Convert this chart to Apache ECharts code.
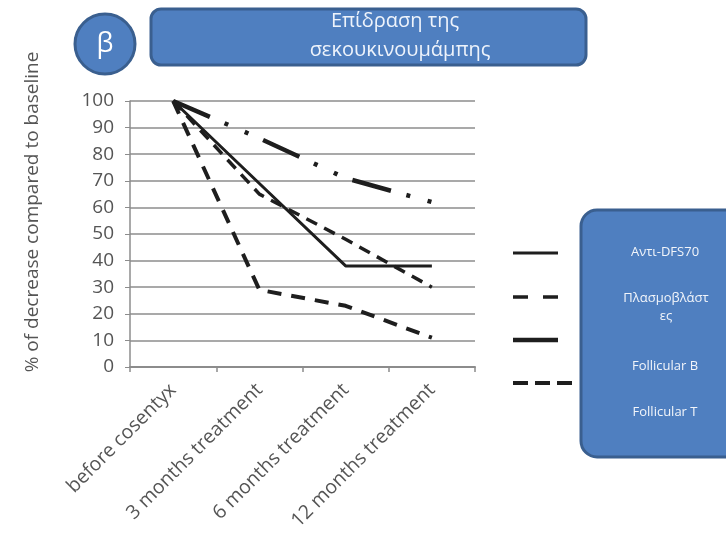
<!DOCTYPE html>
<html>
<head>
<meta charset="utf-8">
<script src="https://cdn.jsdelivr.net/npm/echarts@6/dist/echarts.min.js"></script>
<style>
html,body{margin:0;padding:0;background:#fff;}
#chart{width:726px;height:543px;}
</style>
</head>
<body>
<div id="chart"></div>
<script>
var categories = ['before cosentyx', '3 months treatment', '6 months treatment', '12 months treatment'];
var seriesNames = ['Αντι-DFS70', 'Πλασμοβλάστες', 'Follicular B', 'Follicular T'];
var antiDFS70 = [100, 69, 38, 38];
var plasmablasts = [100, 65, 48, 30];
var follicularB = [100, 86, 71, 62];
var follicularT = [100, 29, 23, 11];
var yTicks = [0, 10, 20, 30, 40, 50, 60, 70, 80, 90, 100];
var titleLines = ['Επίδραση της', 'σεκουκινουμάμπης'];
var yAxisTitle = '% of decrease compared to baseline';
var legendLabels = ['Αντι-DFS70', 'Πλασμοβλάστ\nες', 'Follicular B', 'Follicular T'];

var chart = echarts.init(document.getElementById('chart'));
var gray = '#8c8c8c';
var textGray = '#555555';
var blue = '#4f7fc0';
var blueBorder = '#3a5f8f';
var font = 'Open Sans';

function lineSeries(name, data, style) {
  return {
    name: name, type: 'line', data: data, symbol: 'none',
    lineStyle: style, z: 3
  };
}

var option = {
  animation: false,
  backgroundColor: '#ffffff',
  grid: { left: 130, right: 251, top: 101, bottom: 176, containLabel: false },
  xAxis: {
    type: 'category', data: categories, boundaryGap: true,
    axisLine: { show: true, lineStyle: { color: gray, width: 2 } },
    axisTick: { show: true, length: 5, lineStyle: { color: gray, width: 1.5 } },
    axisLabel: { rotate: 45, margin: 20, fontSize: 19.5, color: textGray, fontFamily: font, interval: 0 }
  },
  yAxis: {
    type: 'value', min: 0, max: 100, interval: 10,
    name: yAxisTitle, nameLocation: 'middle', nameGap: 88, nameRotate: 90,
    nameTextStyle: { fontSize: 19, color: textGray, fontFamily: font, padding: [0, 0, 0, 44] },
    axisLine: { show: true, lineStyle: { color: gray, width: 1.5 } },
    axisTick: { show: true, length: 5, lineStyle: { color: gray } },
    axisLabel: { fontSize: 19, color: textGray, fontFamily: font, margin: 16,
      formatter: function (v) { return yTicks.indexOf(v) >= 0 ? String(v) : ''; } },
    splitLine: { show: true, lineStyle: { color: '#a9a9a9', width: 2 } }
  },
  series: [
    lineSeries(seriesNames[0], antiDFS70, { color: '#1e1e1e', width: 3, type: 'solid' }),
    lineSeries(seriesNames[1], plasmablasts, { color: '#1e1e1e', width: 3.5, type: [12, 8] }),
    lineSeries(seriesNames[2], follicularB, { color: '#1e1e1e', width: 4.5, type: [40, 16, 4, 18, 4, 16] }),
    lineSeries(seriesNames[3], follicularT, { color: '#1e1e1e', width: 4, type: [14, 10] })
  ],
  graphic: [
    { type: 'circle', shape: { cx: 105, cy: 44, r: 30 }, style: { fill: blue, stroke: blueBorder, lineWidth: 3 }, z: 10 },
    { type: 'text', x: 105, y: 44, style: { text: 'β', fill: '#fff', font: '27px "Open Sans"', align: 'center', verticalAlign: 'middle' }, z: 11 },
    { type: 'rect', shape: { x: 151, y: 9, width: 435, height: 56, r: 10 }, style: { fill: blue, stroke: blueBorder, lineWidth: 3 }, z: 10 },
    { type: 'text', x: 395, y: 21, style: { text: titleLines[0], fill: '#eef3fb', font: '20px "Open Sans"', align: 'center', verticalAlign: 'middle' }, z: 11 },
    { type: 'text', x: 400, y: 50, style: { text: titleLines[1], fill: '#eef3fb', font: '20px "Open Sans"', align: 'center', verticalAlign: 'middle' }, z: 11 },
    { type: 'rect', shape: { x: 581, y: 210, width: 160, height: 247, r: 16 }, style: { fill: blue, stroke: blueBorder, lineWidth: 3 }, z: 10 },
    { type: 'text', x: 665, y: 252, style: { text: legendLabels[0], fill: '#f2f5fa', font: '13px "Open Sans"', align: 'center', verticalAlign: 'middle' }, z: 11 },
    { type: 'text', x: 666, y: 307, style: { text: legendLabels[1], fill: '#f2f5fa', font: '13px "Open Sans"', align: 'center', verticalAlign: 'middle', lineHeight: 18 }, z: 11 },
    { type: 'text', x: 665, y: 366, style: { text: legendLabels[2], fill: '#f2f5fa', font: '13px "Open Sans"', align: 'center', verticalAlign: 'middle' }, z: 11 },
    { type: 'text', x: 665, y: 412, style: { text: legendLabels[3], fill: '#f2f5fa', font: '13px "Open Sans"', align: 'center', verticalAlign: 'middle' }, z: 11 },
    { type: 'line', shape: { x1: 513, y1: 253, x2: 558, y2: 253 }, style: { stroke: '#1e1e1e', lineWidth: 3 }, z: 10 },
    { type: 'line', shape: { x1: 513, y1: 297, x2: 558, y2: 297 }, style: { stroke: '#1e1e1e', lineWidth: 3.5, lineDash: [15, 15] }, z: 10 },
    { type: 'line', shape: { x1: 513, y1: 340, x2: 558, y2: 340 }, style: { stroke: '#1e1e1e', lineWidth: 4.5 }, z: 10 },
    { type: 'line', shape: { x1: 513, y1: 383, x2: 573, y2: 383 }, style: { stroke: '#1e1e1e', lineWidth: 4, lineDash: [15, 7] }, z: 10 }
  ]
};
chart.setOption(option);
</script>
</body>
</html>
